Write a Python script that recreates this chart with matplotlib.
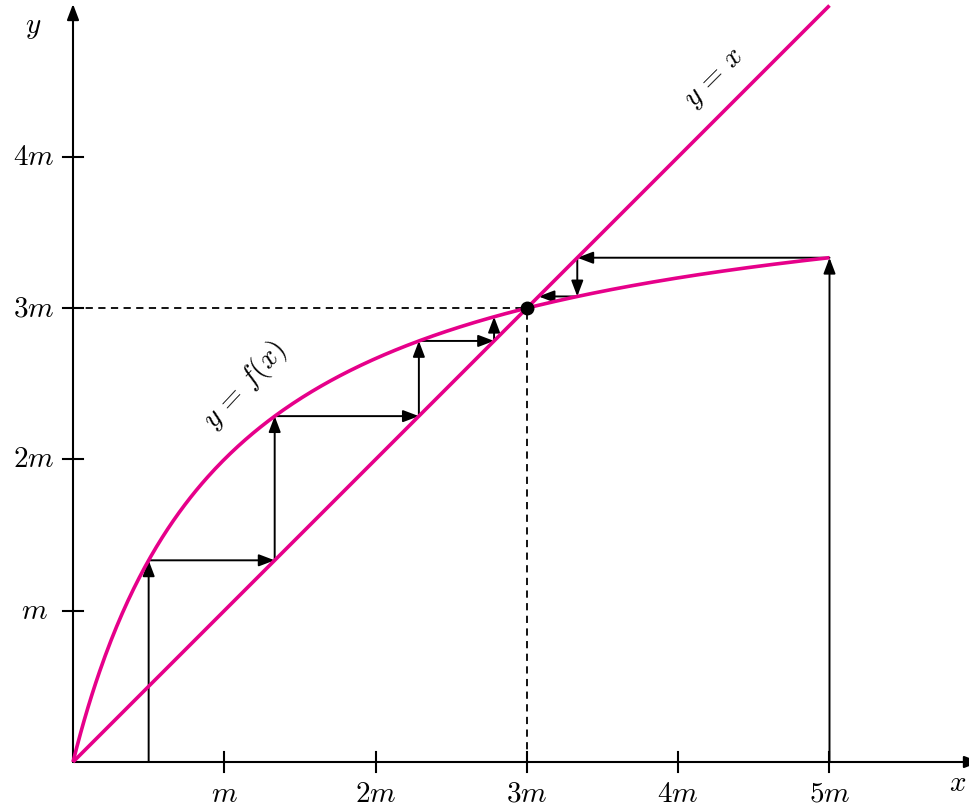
import numpy as np
import matplotlib
matplotlib.use("Agg")
import matplotlib.pyplot as plt

plt.rcParams['mathtext.fontset'] = 'cm'
plt.rcParams['font.family'] = ['DejaVu Serif']

# ---- data ----
# curve y = f(x) = a*x/(x+1), fixed point at x = 3
a_param = 4.0
x_max = 5.0
fixed_point = (3.0, 3.0)
# cobweb iterates
left_iter = [0.5, 1.333, 2.286, 2.783, 2.943]
right_iter = [5.0, 3.333, 3.077]
xtick_vals = [1, 2, 3, 4, 5]
xtick_labels = [r'$m$', r'$2m$', r'$3m$', r'$4m$', r'$5m$']
ytick_vals = [1, 2, 3, 4]
ytick_labels = [r'$m$', r'$2m$', r'$3m$', r'$4m$']

pink = '#E6008A'
u = 151.3      # pixels per unit
ox, oy = 73, 762
FS = 21

fig = plt.figure(figsize=(9.7, 8.08), dpi=100)
ax = fig.add_axes([0, 0, 1, 1])
ax.set_xlim(-ox / u, (970 - ox) / u)
ax.set_ylim(-(808 - oy) / u, oy / u)
ax.axis('off')

def arrow(p0, p1, lw=1.4, hl=0.95, hw=0.36):
    ax.annotate('', xy=p1, xytext=p0, annotation_clip=False,
                arrowprops=dict(arrowstyle=f'-|>,head_length={hl},head_width={hw}',
                                lw=lw, color='k', shrinkA=0, shrinkB=0,
                                mutation_scale=10),
                zorder=3)

# axes
arrow((0, 0), ((980 - ox) / u, 0), lw=1.5)
arrow((0, 0), (0, (oy - 4) / u), lw=1.5)
tk = 10 / u
for xv, lab in zip(xtick_vals, xtick_labels):
    ax.plot([xv, xv], [-tk, tk], color='k', lw=1.5, zorder=3)
    ax.text(xv, -(794 - oy) / u, lab, ha='center', va='center', fontsize=FS)
for yv, lab in zip(ytick_vals, ytick_labels):
    ax.plot([-tk, tk], [yv, yv], color='k', lw=1.5, zorder=3)
    ax.text((34 - ox) / u, yv, lab, ha='center', va='center', fontsize=FS)
ax.text((33 - ox) / u, (oy - 27) / u, r'$y$', ha='center', va='center', fontsize=FS)
ax.text((958 - ox) / u, (oy - 783) / u, r'$x$', ha='center', va='center', fontsize=FS)

# curves
xs = np.linspace(0, x_max, 400)
ax.plot(xs, a_param * xs / (xs + 1), color=pink, lw=2.6, zorder=4, solid_capstyle='butt')
ax.plot([0, x_max], [0, x_max], color=pink, lw=2.6, zorder=4, solid_capstyle='butt')

# dashed guides
ax.plot([0, fixed_point[0]], [fixed_point[1]] * 2, color='k', lw=1.3, ls=(0, (4, 3)), zorder=2)
ax.plot([fixed_point[0]] * 2, [0, fixed_point[1]], color='k', lw=1.3, ls=(0, (4, 3)), zorder=2)

# cobwebs
l = left_iter
arrow((l[0], 0), (l[0], l[1]))
for i in range(1, len(l) - 1):
    arrow((l[i - 1], l[i]), (l[i], l[i]))
    arrow((l[i], l[i]), (l[i], l[i + 1]))
# right side: up, left, down, left
r = right_iter
arrow((r[0], 0), (r[0], r[1]))
arrow((r[0], r[1]), (r[1], r[1]))
arrow((r[1], r[1]), (r[1], r[2]))
arrow((r[1], r[2]), (r[2], r[2]))

ax.plot(*fixed_point, 'o', color='k', ms=9, zorder=6)

ax.text(1.137, 2.49, r'$y\,=\,f(x)$', rotation=47, ha='center', va='center', fontsize=FS,
        rotation_mode='anchor')
ax.text(4.243, 4.52, r'$y\,=\,x$', rotation=45, ha='center', va='center', fontsize=FS,
        rotation_mode='anchor')

fig.savefig('out.png', dpi=100)
